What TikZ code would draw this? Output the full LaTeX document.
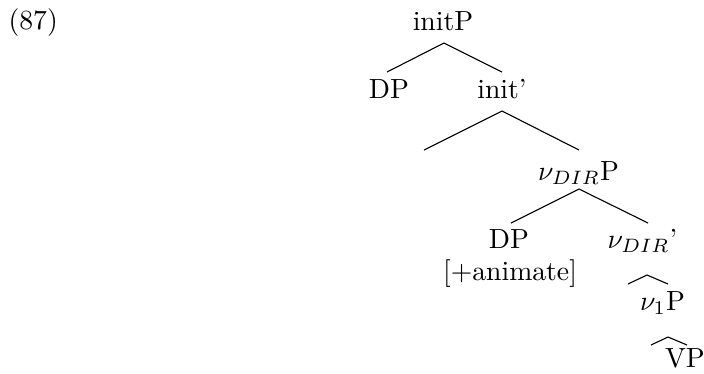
\documentclass[tikz,border=0pt]{standalone}
\begin{document}
\begin{tikzpicture}[x=0.361pt,y=-0.361pt,
  lbl/.style={anchor=base,inner sep=0pt,font=\fontsize{10}{12}\selectfont},
  branch/.style={line width=0.4pt}]
\useasboundingbox (0,0) rectangle (704,373);
% example number
\node[lbl,anchor=base west] (num) at (8,29) {(87)};
% tree labels
\node[lbl] (initP) at (443,30) {initP};
\node[lbl] (dpA) at (389,98) {DP};
\node[lbl] (initbar) at (502,98) {init'};
\node[lbl] (vdirP) at (578.5,180) {$\nu_{DIR}$P};
\node[lbl] (dpB) at (509,248) {DP};
\node[lbl] (vdirbar) at (642.5,248) {$\nu_{DIR}$'};
\node[lbl] (anim) at (510,280) {[+animate]};
\node[lbl] (voneP) at (662.5,310) {$\nu_1$P};
\node[lbl] (vp) at (685,367) {VP};
% branch points
\coordinate (initP-b) at (444,43);
\coordinate (dpA-t) at (387,72);
\coordinate (initbar-t) at (502,72);
\coordinate (initbar-b) at (502,111);
\coordinate (empty-t) at (424,150);
\coordinate (vdirP-t) at (579,150);
\coordinate (vdirP-b) at (579,189);
\coordinate (dpB-t) at (511,223);
\coordinate (vdirbar-t) at (648,223);
% roofs
\coordinate (roofA-l) at (628,284);
\coordinate (roofA-m) at (647,275);
\coordinate (roofA-r) at (668,284);
\coordinate (roofB-l) at (651,345);
\coordinate (roofB-m) at (668,337);
\coordinate (roofB-r) at (687,345);
% branches
\draw[branch] (dpA-t) -- (initP-b) -- (initbar-t);
\draw[branch] (empty-t) -- (initbar-b) -- (vdirP-t);
\draw[branch] (dpB-t) -- (vdirP-b) -- (vdirbar-t);
\draw[branch] (roofA-l) -- (roofA-m) -- (roofA-r);
\draw[branch] (roofB-l) -- (roofB-m) -- (roofB-r);
\end{tikzpicture}
\end{document}
